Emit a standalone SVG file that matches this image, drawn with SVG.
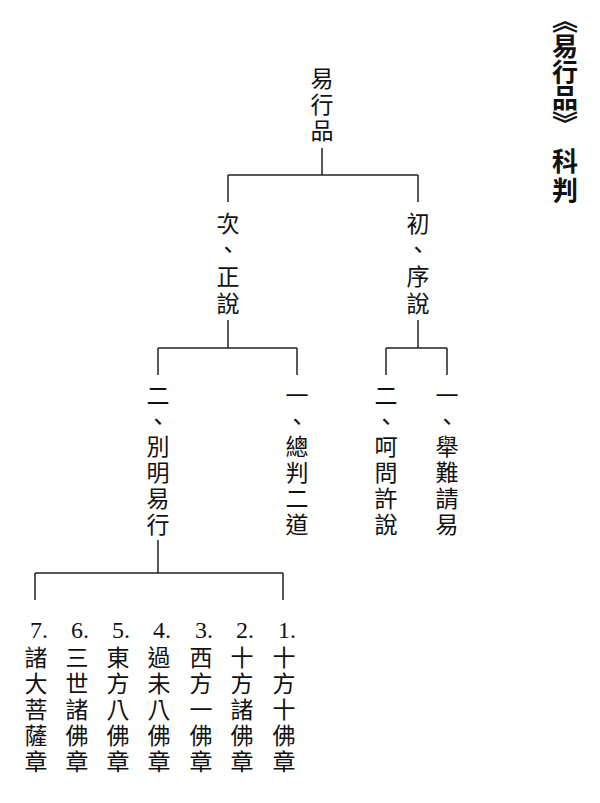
<svg xmlns="http://www.w3.org/2000/svg" width="600" height="803" viewBox="0 0 600 803">
<style>
.t{font-family:"Noto Sans CJK TC","Noto Sans CJK SC",sans-serif;font-size:23px;fill:#111;writing-mode:vertical-rl;letter-spacing:2.8px}
.n{font-family:"Liberation Serif",serif;font-size:24px;fill:#111;text-anchor:middle}
.h{font-family:"Noto Sans CJK TC","Noto Sans CJK SC",sans-serif;font-size:26px;font-weight:bold;fill:#111;writing-mode:vertical-rl}
.c{stroke:#222;stroke-width:1.5;fill:none}
</style>
<rect width="600" height="803" fill="#fff"/>
<g id="title">
<text class="h" x="565" y="7">《易行品》</text>
<text class="h" x="565" y="148" style="letter-spacing:3px">科判</text>
</g>
<g id="connectors" class="c">
<path d="M322,148V175M228,175H418M228,175V202M418,175V202"/>
<path d="M228,320V348M158,348H297M158,348V375M297,348V375"/>
<path d="M418,320V348M386,348H447M386,348V375M447,348V375"/>
<path d="M158,540V573M35,573H283M35,573V600M283,573V600"/>
</g>
<g id="root">
<text class="t" x="322" y="66.5" style="letter-spacing:3px">易行品</text>
</g>
<g id="n-zheng">
<text class="t" x="228" y="211.5" style="letter-spacing:3.7px">次、正說</text>
</g>
<g id="n-xu">
<text class="t" x="418" y="211.5" style="letter-spacing:3.7px">初、序說</text>
</g>
<g id="n-bieming">
<text class="t" x="158" y="383.5">二、別明易行</text>
</g>
<g id="n-zongpan">
<text class="t" x="297" y="383.5">一、總判二道</text>
</g>
<g id="n-hewen">
<text class="t" x="386" y="383.5">二、呵問許說</text>
</g>
<g id="n-junan">
<text class="t" x="447" y="383.5">一、舉難請易</text>
</g>
<g id="c7">
<text class="n" x="39" y="638">7.</text>
<text class="t" x="36" y="645.5" style="letter-spacing:3px">諸大菩薩章</text>
</g>
<g id="c6">
<text class="n" x="80" y="638">6.</text>
<text class="t" x="77" y="645.5" style="letter-spacing:3px">三世諸佛章</text>
</g>
<g id="c5">
<text class="n" x="121" y="638">5.</text>
<text class="t" x="118" y="645.5" style="letter-spacing:3px">東方八佛章</text>
</g>
<g id="c4">
<text class="n" x="162" y="638">4.</text>
<text class="t" x="159" y="645.5" style="letter-spacing:3px">過未八佛章</text>
</g>
<g id="c3">
<text class="n" x="204" y="638">3.</text>
<text class="t" x="201" y="645.5" style="letter-spacing:3px">西方一佛章</text>
</g>
<g id="c2">
<text class="n" x="245" y="638">2.</text>
<text class="t" x="242" y="645.5" style="letter-spacing:3px">十方諸佛章</text>
</g>
<g id="c1">
<text class="n" x="287" y="638">1.</text>
<text class="t" x="284" y="645.5" style="letter-spacing:3px">十方十佛章</text>
</g>
</svg>
